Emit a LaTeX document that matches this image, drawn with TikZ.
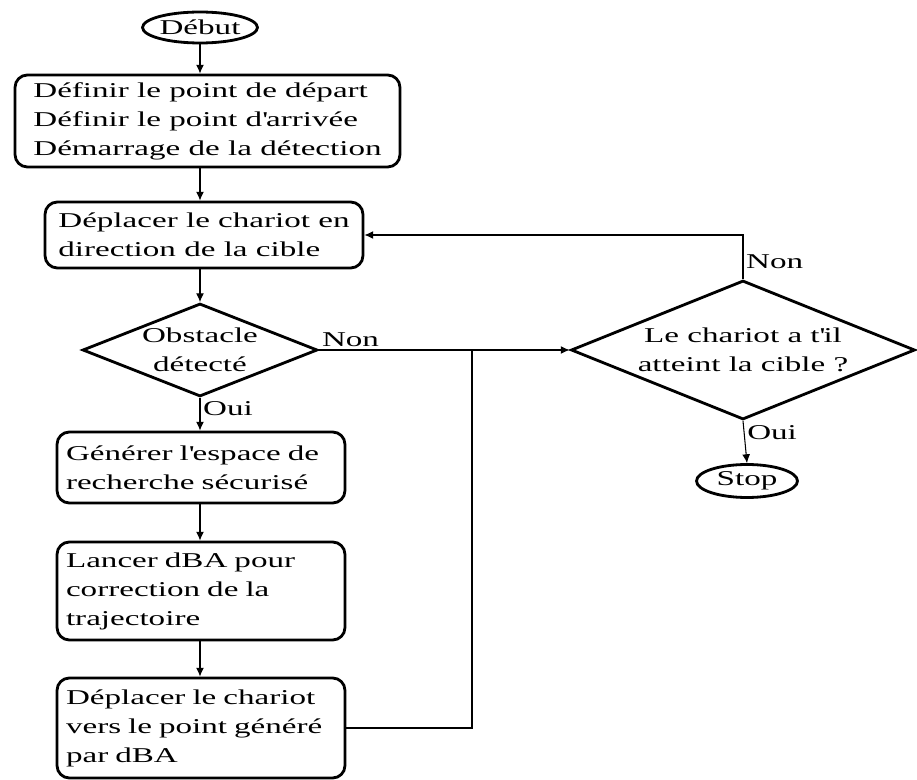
\documentclass[tikz,border=0pt]{standalone}
\usepackage{fontspec}
\setmainfont{Liberation Serif}[FakeStretch=1.57]
\usetikzlibrary{positioning,shapes.geometric,arrows.meta}

\begin{document}
\begin{tikzpicture}[x=0.02cm, y=-0.02cm,
  every node/.style={font=\fontsize{12pt}{16.5pt}\selectfont},
  terminal/.style={draw, ellipse, line width=1.6pt, inner sep=0pt},
  process/.style={draw, rounded corners=7pt, line width=1.6pt,
    align=left, inner sep=0pt},
  decision/.style={draw, diamond, aspect=2.5, line width=1.6pt,
    align=center, inner sep=0pt},
  arr/.style={-{Latex[length=5pt,width=4.5pt]}, line width=0.6pt},
  link/.style={line width=0.6pt},
  lbl/.style={inner sep=1.5pt, anchor=west},
]
\useasboundingbox (0,0) rectangle (917,780);

% left column
\node[terminal, minimum width=2.3cm, minimum height=0.62cm] (debut) at (200,27.5) {Début};
\node[process, minimum width=7.7cm, minimum height=1.84cm] (init) at (207.5,121)
  {Définir le point de départ\\Définir le point d\textquotesingle arrivée\\Démarrage de la détection};
\node[process, minimum width=6.36cm, minimum height=1.32cm] (move) at (204,235)
  {Déplacer le chariot en\\direction de la cible};
\node[decision, minimum width=4.7cm, minimum height=1.86cm] (obst) at (200,350)
  {Obstacle\\détecté};
\node[process, text width=5.4cm, minimum width=5.76cm, minimum height=1.42cm] (space) at (201,467.5)
  {Générer l\textquotesingle espace de\\recherche sécurisé};
\node[process, text width=5.4cm, minimum width=5.76cm, minimum height=1.96cm] (dba) at (201,591)
  {Lancer dBA pour\\correction de la\\trajectoire};
\node[process, text width=5.4cm, minimum width=5.76cm, minimum height=2.0cm] (goto) at (201,728)
  {Déplacer le chariot\\vers le point généré\\par dBA};

% right column
\node[decision, minimum width=6.88cm, minimum height=2.78cm] (reach) at (743,350)
  {Le chariot a t\textquotesingle il\\atteint la cible ?};
\node[terminal, minimum width=2.02cm, minimum height=0.66cm] (stop) at (747,481) {Stop};

\coordinate (join) at (472,350);

\draw[arr] (debut.south -| obst) -- (init.north -| obst);
\draw[arr] (init.south -| obst) -- (move.north -| obst);
\draw[arr] (move.south -| obst) -- (obst.north);
\draw[arr] (obst.south) -- node[lbl, pos=0.33] {Oui} (space.north -| obst);
\draw[arr] (space.south -| obst) -- (dba.north -| obst);
\draw[arr] (dba.south -| obst) -- (goto.north -| obst);
\draw[arr] (obst.east) -- node[pos=0, anchor=south west, inner sep=1.5pt] {Non} (reach.west);
\draw[link] (goto.east) -| (join);
\draw[arr] (reach.north) |- node[lbl, pos=0.2] {Non} (move.east);
\draw[arr] (reach.south) -- node[lbl, pos=0.28] {Oui} (stop.north);
\end{tikzpicture}
\end{document}
